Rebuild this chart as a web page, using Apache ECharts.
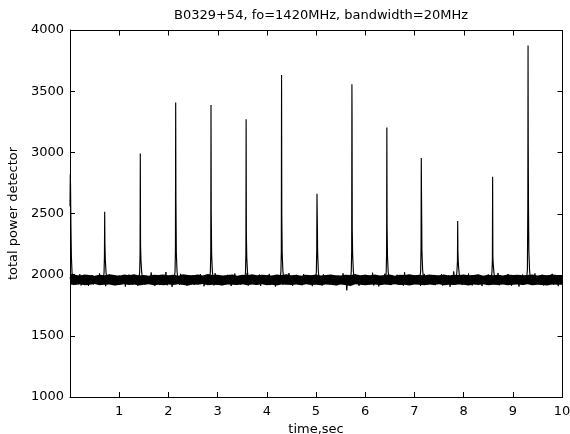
<!DOCTYPE html>
<html>
<head>
<meta charset="utf-8">
<script src="https://cdn.jsdelivr.net/npm/echarts@6/dist/echarts.min.js"></script>
<style>
html,body{margin:0;padding:0;background:#fff;}
#chart{width:570px;height:434px;}
</style>
</head>
<body>
<div id="chart"></div>
<script>
// ---- data ----
const titleText = 'B0329+54, fo=1420MHz, bandwidth=20MHz';
const xName = 'time,sec';
const yName = 'total power detector';
const xTicks = [1, 2, 3, 4, 5, 6, 7, 8, 9, 10];
const yTicks = [1000, 1500, 2000, 2500, 3000, 3500, 4000];

// baseline detector samples, one every 0.025 s from 0 to 10 s
const sampleStep = 0.025;
const baseline = [
1978,1931,1990,1916,1972,1940,1986,1922,2004,1912,1969,1936,1993,1925,1981,1909,1975,1943,1997,1920,
1970,1928,1988,1934,2010,1918,1977,1939,1984,1906,1973,1930,1999,1924,1966,1945,1991,1914,1980,1933,
1994,1921,1971,1937,1985,1902,1979,1941,2001,1926,1968,1917,1989,1935,1976,1911,1996,1929,1983,1938,
1974,1919,1992,1932,1967,1944,2018,1923,1982,1908,1987,1936,1971,1915,1998,1927,1975,1940,2022,1913,
1979,1934,1986,1900,1970,1929,1995,1942,1977,1918,2007,1926,1984,1937,1969,1910,1990,1931,1973,1944,
1997,1916,1981,1933,1966,1924,2003,1939,1988,1905,1976,1930,1993,1920,1971,1941,1985,1912,2012,1927,
1974,1938,1991,1914,1980,1935,1968,1923,1999,1943,1983,1907,1972,1932,2009,1921,1987,1937,1967,1918,
1994,1929,1978,1940,2015,1911,1985,1926,1970,1945,1992,1917,1976,1934,2001,1908,1981,1939,1969,1922,
1989,1930,2006,1915,1973,1942,1984,1903,1996,1928,1970,1936,1992,1919,1979,1944,1967,1925,2013,1933,
1982,1910,1975,1938,1998,1923,1987,1941,1971,1914,2005,1931,1980,1927,1966,1946,1993,1906,1977,1935,
1970,1924,1995,1939,1983,1911,2002,1932,1974,1943,1988,1918,1968,1929,1997,1937,1979,1913,1991,1926,
1976,1940,2011,1921,1985,1872,1969,1934,1994,1916,1978,1942,2004,1925,1973,1909,1986,1936,1967,1930,
1999,1919,1981,1944,1972,1927,2016,1912,1990,1938,1975,1904,1983,1933,1970,1941,2008,1922,1987,1935,
1968,1915,1993,1930,1979,1945,2000,1920,1984,1937,1971,1910,2020,1928,1977,1942,1989,1917,1974,1934,
1996,1923,1969,1939,1986,1908,1980,1931,2006,1944,1973,1919,1991,1926,1967,1940,1998,1914,1982,1936,
1975,1929,2003,1911,1988,1943,1970,1924,1995,1901,1978,1938,2026,1921,1984,1933,1969,1946,1992,1916,
1980,1935,1974,1920,2009,1941,1987,1912,1972,1930,1997,1925,1983,1944,1968,1907,1990,1937,1976,1922,
2002,1918,1979,1942,1985,1928,1971,1939,2014,1913,1993,1932,1977,1945,1966,1921,2005,1934,1981,1910,
1973,1940,1996,1926,1984,1903,1970,1936,2001,1919,1988,1943,1975,1929,1994,1915,1968,1938,2010,1924,
1986,1931,1972,1945,1999,1912,1978,1935,1991,1922,1967,1941,2007,1917,1983,1930,1974,1906,1995,1937,
1979
];

// dense core of the noise band (min / max envelope every 0.1 s)
const envStep = 0.1;
const lowerEnv = [
1919,1915,1921,1913,1918,1923,1914,1917,1920,1912,
1916,1922,1915,1919,1911,1917,1921,1914,1918,1913,
1920,1916,1922,1915,1911,1919,1917,1923,1914,1918,
1916,1912,1920,1917,1915,1921,1913,1919,1916,1922,
1914,1918,1911,1920,1917,1915,1919,1913,1921,1916,
1918,1914,1920,1917,1912,1919,1915,1908,1921,1918,
1914,1917,1920,1913,1919,1916,1922,1915,1918,1912,
1920,1917,1914,1919,1916,1921,1913,1918,1915,1920,
1917,1912,1919,1916,1922,1914,1918,1915,1920,1913,
1917,1919,1915,1921,1914,1918,1916,1912,1919,1917,
1918
];
const upperEnv = [
1996,2000,1993,2002,1997,1991,1999,1995,2003,1998,
1992,2001,1996,2004,1994,1998,1991,2000,1997,2002,
1995,1999,1992,2003,1998,1996,2001,1993,2005,1997,
2000,1994,1998,2002,1991,1999,1996,2004,1995,2000,
1997,1993,2001,1998,2003,1995,1999,1992,2000,1996,
2002,1994,1998,2001,1996,1993,2000,1997,2003,1995,
1999,1996,2002,1994,1998,2001,1992,2000,1997,2004,
1995,1999,1993,2001,1998,1996,2002,1994,2000,1997,
2001,1995,1998,2003,1992,1999,1996,2000,1994,2002,
1997,2000,1995,1998,2002,1993,1999,1996,2001,1998,
1996
];

// individual pulses: [time, power] samples
const pulse0  = [[0.000,2560],[0.006,2820],[0.011,2730],[0.018,2420],[0.028,2150],[0.042,2010],[0.060,1962]];
const pulse1  = [[0.675,1962],[0.692,2015],[0.700,2150],[0.705,2514],[0.710,2250],[0.718,2120],[0.732,2020],[0.750,1960]];
const pulse2  = [[1.399,1960],[1.416,2020],[1.424,2160],[1.429,2990],[1.434,2240],[1.442,2120],[1.456,2025],[1.474,1962]];
const pulse3  = [[2.118,1962],[2.135,2025],[2.143,2200],[2.148,3408],[2.153,2610],[2.161,2180],[2.175,2030],[2.193,1960]];
const pulse4  = [[2.836,1960],[2.853,2020],[2.861,2180],[2.866,3386],[2.871,2487],[2.879,2160],[2.893,2030],[2.911,1962]];
const pulse5  = [[3.550,1962],[3.567,2020],[3.575,2170],[3.580,3271],[3.585,2323],[3.593,2140],[3.607,2025],[3.625,1960]];
const pulse6  = [[4.270,1960],[4.287,2025],[4.295,2190],[4.300,3633],[4.305,2473],[4.313,2170],[4.327,2030],[4.345,1962]];
const pulse7  = [[4.990,1962],[5.007,2020],[5.015,2200],[5.020,2661],[5.025,2500],[5.033,2190],[5.047,2030],[5.065,1960]];
const pulse8  = [[5.700,1960],[5.717,2025],[5.725,2190],[5.730,3557],[5.733,3290],[5.737,2364],[5.745,2160],[5.759,2030],[5.777,1962]];
const pulse9  = [[6.410,1962],[6.427,2020],[6.435,2180],[6.440,3203],[6.445,2391],[6.453,2150],[6.467,2025],[6.485,1960]];
const pulse10 = [[7.110,1960],[7.127,2030],[7.135,2220],[7.140,2953],[7.145,2634],[7.153,2200],[7.167,2040],[7.185,1962]];
const pulse11 = [[7.850,1962],[7.865,2030],[7.875,2110],[7.880,2438],[7.885,2176],[7.893,2090],[7.907,2020],[7.925,1960]];
const pulse12 = [[8.560,1960],[8.577,2025],[8.585,2120],[8.590,2800],[8.595,2146],[8.603,2080],[8.617,2015],[8.635,1962]];
const pulse13 = [[9.280,1962],[9.297,2040],[9.305,2555],[9.310,3873],[9.314,3059],[9.319,2555],[9.326,2200],[9.340,2040],[9.358,1960]];
const pulses = [pulse0,pulse1,pulse2,pulse3,pulse4,pulse5,pulse6,pulse7,pulse8,pulse9,pulse10,pulse11,pulse12,pulse13];

(function () {
  // ---- chart ----
  const FONT = 'DejaVu Sans';
  const X_MIN = 0, X_MAX = 10, Y_MIN = 1000, Y_MAX = 4000;
  const baselineData = baseline.map((v, i) => [i * sampleStep, v]);
  const lineStyleBlack = { color: '#000', width: 1 };
  const crisp = p => Math.round(p) + 0.5;

  // filled core of the noise band, placed through the axes' own coordinate mapping
  const bandSeries = {
    type: 'custom',
    silent: true,
    clip: true,
    data: [[0, lowerEnv[0]]],
    renderItem: function (params, api) {
      const pts = [];
      for (let i = 0; i < upperEnv.length; i++) pts.push(api.coord([i * envStep, upperEnv[i]]));
      for (let i = lowerEnv.length - 1; i >= 0; i--) pts.push(api.coord([i * envStep, lowerEnv[i]]));
      return { type: 'polygon', shape: { points: pts }, style: { fill: '#000', stroke: null } };
    }
  };

  // top / right box edges with inward ticks, placed through the axes' coordinate mapping
  const frameSeries = {
    type: 'custom',
    silent: true,
    clip: false,
    z: 50,
    data: [[X_MIN, Y_MIN]],
    renderItem: function (params, api) {
      const tl = api.coord([X_MIN, Y_MAX]);
      const br = api.coord([X_MAX, Y_MIN]);
      const xl = crisp(tl[0]), xr = crisp(br[0]), yt = crisp(tl[1]), yb = crisp(br[1]);
      const st = { stroke: '#000', lineWidth: 1, fill: null };
      const kids = [
        { type: 'line', shape: { x1: xl - 0.5, y1: yt, x2: xr + 0.5, y2: yt }, style: st },
        { type: 'line', shape: { x1: xr, y1: yt, x2: xr, y2: yb + 0.5 }, style: st }
      ];
      xTicks.forEach(v => {
        const x = crisp(api.coord([v, Y_MAX])[0]);
        kids.push({ type: 'line', shape: { x1: x, y1: yt, x2: x, y2: yt + 5 }, style: st });
      });
      yTicks.forEach(v => {
        const y = crisp(api.coord([X_MAX, v])[1]);
        kids.push({ type: 'line', shape: { x1: xr, y1: y, x2: xr - 5, y2: y }, style: st });
      });
      return { type: 'group', children: kids };
    }
  };

  const series = [bandSeries, {
    type: 'line', data: baselineData, symbol: 'none', silent: true,
    lineStyle: lineStyleBlack
  }].concat(pulses.map(p => ({
    type: 'line', data: p, symbol: 'none', silent: true,
    lineStyle: { color: '#000', width: 1.15 }
  }))).concat([frameSeries]);

  const chart = echarts.init(document.getElementById('chart'), null, { renderer: 'canvas' });
  chart.setOption({
    animation: false,
    backgroundColor: '#fff',
    title: {
      text: titleText,
      left: 316, top: 4, textAlign: 'center',
      textStyle: { fontFamily: FONT, fontSize: 13, fontWeight: 'normal', color: '#000' }
    },
    grid: {
      left: 70, right: 8, top: 30, bottom: 37,
      containLabel: false, outerBoundsMode: 'none'
    },
    xAxis: {
      type: 'value', min: X_MIN, max: X_MAX, interval: 1, position: 'bottom',
      name: xName, nameLocation: 'middle', nameGap: 25,
      nameTextStyle: { fontFamily: FONT, fontSize: 13, color: '#000' },
      axisLine: { show: true, onZero: false, lineStyle: { color: '#000', width: 1 } },
      axisTick: { show: true, inside: true, length: 5, lineStyle: { color: '#000', width: 1 } },
      splitLine: { show: false },
      axisLabel: {
        fontFamily: FONT, fontSize: 13, color: '#000', margin: 8,
        formatter: v => (xTicks.indexOf(v) >= 0 ? String(v) : '')
      }
    },
    yAxis: {
      type: 'value', min: Y_MIN, max: Y_MAX, interval: 500, position: 'left',
      name: yName, nameLocation: 'middle', nameGap: 45,
      nameTextStyle: { fontFamily: FONT, fontSize: 13, color: '#000' },
      axisLine: { show: true, onZero: false, lineStyle: { color: '#000', width: 1 } },
      axisTick: { show: true, inside: true, length: 5, lineStyle: { color: '#000', width: 1 } },
      splitLine: { show: false },
      axisLabel: {
        fontFamily: FONT, fontSize: 13, color: '#000', margin: 6,
        formatter: v => (yTicks.indexOf(v) >= 0 ? String(v) : '')
      }
    },
    series: series
  });
})();
</script>
</body>
</html>
